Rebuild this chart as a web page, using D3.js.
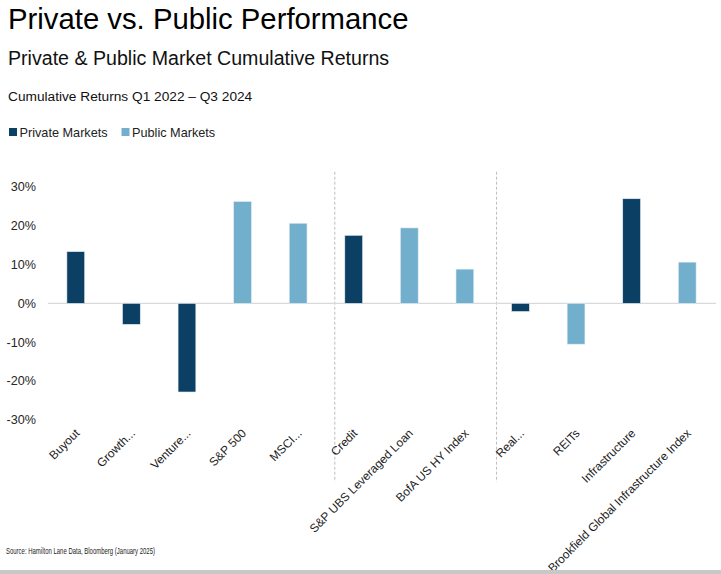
<!DOCTYPE html>
<html>
<head>
<meta charset="utf-8">
<script src="https://cdn.jsdelivr.net/npm/d3@7"></script>
<style>
  html, body { margin: 0; padding: 0; background: #fff; }
  svg { display: block; font-family: "Liberation Sans", Arial, sans-serif; }
</style>
</head>
<body>
<svg id="chart" width="721" height="574"></svg>
<script>
// ---- data ----
const categories = ["Buyout", "Growth...", "Venture...", "S&P 500", "MSCI...", "Credit",
  "S&P UBS Leveraged Loan", "BofA US HY Index", "Real...", "REITs", "Infrastructure",
  "Brookfield Global Infrastructure Index"];
const values = [13.3, -5.4, -22.8, 26.2, 20.6, 17.5, 19.4, 8.8, -2.1, -10.5, 26.9, 10.6];
const seriesType = ["Private", "Private", "Private", "Public", "Public", "Private",
  "Public", "Public", "Private", "Public", "Private", "Public"];
const seriesNames = ["Private Markets", "Public Markets"];
const yTicks = [-30, -20, -10, 0, 10, 20, 30];
const groupBreaks = [5.16, 8.07]; // separator positions, in category steps from left edge

const colors = { Private: "#0b3f63", Public: "#71afcc" };

const svg = d3.select("#chart");

// ---- titles ----
svg.append("text").attr("x", 8).attr("y", 29)
  .attr("font-size", 29.3).attr("fill", "#000").text("Private vs. Public Performance");
svg.append("text").attr("x", 8).attr("y", 65)
  .attr("font-size", 19.6).attr("fill", "#111").text("Private & Public Market Cumulative Returns");
svg.append("text").attr("x", 8).attr("y", 101)
  .attr("font-size", 13.7).attr("fill", "#111").text("Cumulative Returns Q1 2022 \u2013 Q3 2024");

// ---- legend ----
const legend = svg.append("g").attr("transform", "translate(9,128)");
const legX = [0, 112.5];
seriesNames.forEach((name, i) => {
  const g = legend.append("g").attr("transform", `translate(${legX[i]},0)`);
  g.append("rect").attr("width", 8).attr("height", 8)
    .attr("fill", i === 0 ? colors.Private : colors.Public);
  g.append("text").attr("x", 10.5).attr("y", 8.5).attr("font-size", 12.7)
    .attr("fill", "#222").text(name);
});

// ---- scales ----
const x = d3.scaleBand().domain(categories).range([48, 715])
  .paddingInner(0.68).paddingOuter(0.34);
const y = d3.scaleLinear().domain([-30, 30]).range([420, 186.7]);

// ---- y axis labels ----
svg.append("g").selectAll("text").data(yTicks).join("text")
  .attr("x", 36).attr("y", d => y(d) + 4.3)
  .attr("text-anchor", "end").attr("font-size", 12.6).attr("fill", "#262626")
  .text(d => `${d}%`);

// ---- separators ----
svg.append("g").selectAll("line").data(groupBreaks).join("line")
  .attr("x1", d => x.range()[0] + d * x.step())
  .attr("x2", d => x.range()[0] + d * x.step())
  .attr("y1", y(30) - 15).attr("y2", y(-30) + 62)
  .attr("stroke", "#bdbdbd").attr("stroke-width", 1).attr("stroke-dasharray", "3,2");

// ---- zero line ----
svg.append("line")
  .attr("x1", x.range()[0]).attr("x2", 716)
  .attr("y1", y(0)).attr("y2", y(0))
  .attr("stroke", "#d9d9d9").attr("stroke-width", 1.3);

// ---- bars ----
svg.append("g").selectAll("rect").data(categories).join("rect")
  .attr("x", d => x(d))
  .attr("width", x.bandwidth())
  .attr("y", (d, i) => y(Math.max(0, values[i])))
  .attr("height", (d, i) => Math.abs(y(values[i]) - y(0)))
  .attr("fill", (d, i) => colors[seriesType[i]])
  .attr("stroke", "#e4edf2").attr("stroke-width", 0.6);

// ---- category labels ----
svg.append("g").selectAll("text").data(categories).join("text")
  .attr("transform", d => `translate(${x(d) + x.bandwidth() / 2 + 4.5},434) rotate(-45)`)
  .attr("text-anchor", "end").attr("font-size", 11.9).attr("fill", "#222")
  .text(d => d);

// ---- source ----
svg.append("text").attr("x", 6).attr("y", 553.5)
  .attr("font-size", 9.2).attr("fill", "#222")
  .attr("textLength", 149).attr("lengthAdjust", "spacingAndGlyphs")
  .text("Source: Hamilton Lane Data, Bloomberg (January 2025)");

// ---- bottom border ----
svg.append("rect").attr("x", 0).attr("y", 570).attr("width", 721).attr("height", 4)
  .attr("fill", "#c8c8c8");
</script>
</body>
</html>
